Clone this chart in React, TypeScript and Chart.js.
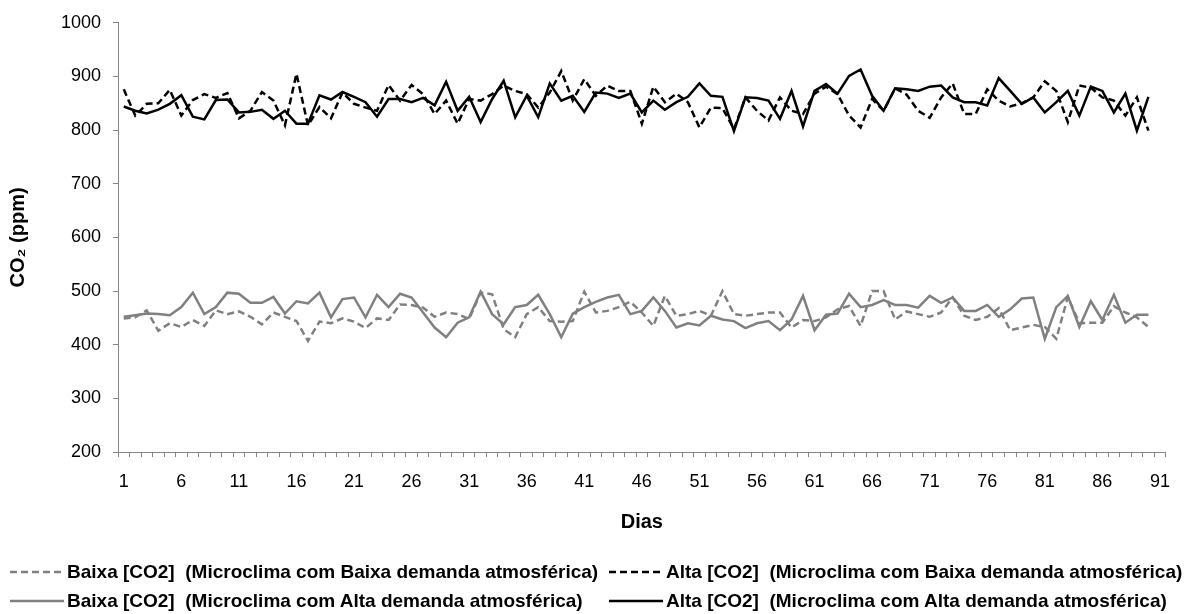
import React, { useEffect, useRef } from 'react';
import { Chart, registerables } from 'chart.js';

Chart.register(...registerables);

// Category labels: days 1..91 (data recorded for 90 days)
const dayLabels: string[] = Array.from({ length: 91 }, (_, i) => String(i + 1));

const seriesNames = [
  'Baixa [CO2]  (Microclima com Baixa demanda atmosférica)',
  'Alta [CO2]  (Microclima com Baixa demanda atmosférica)',
  'Baixa [CO2]  (Microclima com Alta demanda atmosférica)',
  'Alta [CO2]  (Microclima com Alta demanda atmosférica)',
];

// Baixa [CO2] – Microclima com Baixa demanda (grey dashed)
const baixaBaixa: number[] = [
  449, 451, 464, 426, 440, 433, 446, 435, 464, 457, 462, 452, 438, 460, 452, 444, 407, 443,
  440, 449, 443, 431, 449, 446, 475, 474, 469, 452, 460, 457, 448, 497, 494, 429, 414, 457, 470, 444, 443, 444, 499, 460,
  463, 470, 480, 460, 435, 491, 454, 457, 463, 454, 500, 457, 454, 457, 460, 460, 432, 446, 444, 451, 466, 472, 435, 500,
  500,
  447, 462, 457, 452, 460, 488, 454, 446, 452, 468, 427, 432, 437, 433, 411, 489, 440, 441, 441, 472, 460, 451, 433,
];

// Alta [CO2] – Microclima com Baixa demanda (black dashed)
const altaBaixa: number[] = [
  876, 827, 849, 850, 875, 827, 856, 867, 860, 869, 822, 836, 871, 855, 809, 905, 809, 843,
  822, 870, 849, 842, 836, 884, 855, 884, 867, 830, 855, 812, 858, 855, 867, 883, 873, 867, 842, 870, 910, 855, 895, 864,
  883, 873, 873, 812, 881, 852, 868, 852, 805, 842, 841, 802, 861, 836, 818, 861, 836, 830, 868, 881, 867, 827, 805,
  858, 836,
  878, 866, 836, 823, 861, 887, 830, 830, 876, 855, 844, 850, 861, 891, 873, 815, 883, 879, 861, 855, 827, 861, 799,
];

// Baixa [CO2] – Microclima com Alta demanda (grey solid)
const baixaAlta: number[] = [
  452, 455, 458, 457, 455, 470, 497, 457, 470, 497, 495, 478, 478, 489, 458, 481, 477, 497,
  451, 485, 488, 451, 493, 470, 495, 488, 460, 432, 414, 441, 451, 499, 457, 438, 470, 474, 493, 457, 414, 458, 470, 480,
  488, 493, 457, 463, 488, 463, 432, 440, 436, 454, 447, 444, 431, 440, 444, 427, 447, 491, 427, 456, 458, 495, 470, 474,
  483, 474, 474, 469, 491, 478, 488, 463, 463, 474, 452, 466, 486, 488, 411, 470, 491, 433, 481, 446, 493, 441, 456, 456,
];

// Alta [CO2] – Microclima com Alta demanda (black solid)
const altaAlta: number[] = [
  844, 836, 831, 838, 849, 865, 825, 820, 856, 857, 833, 834, 838, 821, 836, 812, 812, 865,
  857, 871, 862, 852, 825, 858, 858, 852, 860, 846, 890, 836, 862, 815, 858, 892, 824, 864, 824, 887, 855, 864, 834, 870,
  868, 860, 868, 833, 855, 838, 852, 862, 887, 864, 862, 798, 861, 860, 855, 821, 873, 807, 873, 886, 868, 901, 913,
  864, 836,
  878, 876, 873, 881, 883, 861, 852, 852, 846, 897, 873, 849, 861, 833, 852, 873, 827, 881, 873, 833, 868, 799, 862,
];

const yMin = 200;
const yMax = 1000;
const yStep = 100;

const FONT = "'Liberation Sans', Arial, Helvetica, sans-serif";
const GREY = '#808080';
const BLACK = '#000000';
const AXIS = '#868686';
const DASH = [7, 4];

const seriesStyles = [
  { color: GREY, dashed: true },
  { color: BLACK, dashed: true },
  { color: GREY, dashed: false },
  { color: BLACK, dashed: false },
];
const seriesData = [baixaBaixa, altaBaixa, baixaAlta, altaAlta];

function LegendItem({ idx, left, top }: { idx: number; left: number; top: number }) {
  const st = seriesStyles[idx];
  return (
    <div
      style={{
        position: 'absolute',
        left,
        top,
        display: 'flex',
        alignItems: 'center',
        whiteSpace: 'pre',
        fontFamily: FONT,
        fontWeight: 'bold',
        fontSize: 19,
        lineHeight: '22px',
        color: '#000',
      }}
    >
      <svg width={54} height={6} style={{ marginRight: 3 }}>
        <line
          x1={0}
          y1={3}
          x2={54}
          y2={3}
          stroke={st.color}
          strokeWidth={2.5}
          strokeDasharray={st.dashed ? DASH.join(' ') : undefined}
        />
      </svg>
      <span>{seriesNames[idx]}</span>
    </div>
  );
}

export default function App() {
  const ref = useRef<HTMLCanvasElement | null>(null);

  useEffect(() => {
    if (!ref.current) return;
    const chart = new Chart(ref.current, {
      type: 'line',
      data: {
        labels: dayLabels,
        datasets: seriesData.map((d, i) => ({
          label: seriesNames[i],
          data: d,
          borderColor: seriesStyles[i].color,
          backgroundColor: seriesStyles[i].color,
          borderWidth: 2.5,
          borderDash: seriesStyles[i].dashed ? DASH : [],
          pointRadius: 0,
          pointHoverRadius: 0,
          fill: false,
          tension: 0,
        })),
      },
      options: {
        animation: false,
        responsive: false,
        maintainAspectRatio: false,
        layout: { padding: { left: 0, right: 11.5, top: 20, bottom: 80 } },
        plugins: {
          legend: { display: false },
          tooltip: { enabled: false },
        },
        scales: {
          x: {
            type: 'category',
            offset: true,
            grid: {
              offset: true,
              drawOnChartArea: false,
              drawTicks: true,
              tickLength: 5,
              color: AXIS,
            },
            border: { color: AXIS, width: 1 },
            ticks: {
              autoSkip: false,
              maxRotation: 0,
              minRotation: 0,
              padding: 14,
              color: '#000',
              font: { family: FONT, size: 18 },
              callback: (_v: any, i: number) => (i % 5 === 0 ? dayLabels[i] : ''),
            },
            title: {
              display: true,
              text: 'Dias',
              color: '#000',
              font: { family: FONT, size: 20, weight: 'bold' },
              padding: { top: 0, bottom: 0 },
            },
            afterFit: (s: any) => {
              s.height = 82;
            },
          },
          y: {
            min: yMin,
            max: yMax,
            grid: {
              drawOnChartArea: false,
              drawTicks: true,
              tickLength: 5,
              color: AXIS,
            },
            border: { color: AXIS, width: 1 },
            ticks: {
              stepSize: yStep,
              padding: 12,
              color: '#000',
              font: { family: FONT, size: 18 },
              callback: (v: any) => String(v),
            },
            title: {
              display: true,
              text: 'CO₂ (ppm)',
              color: '#000',
              font: { family: FONT, size: 20, weight: 'bold' },
              padding: { top: 6, bottom: 0 },
            },
            afterFit: (s: any) => {
              s.width = 118;
            },
          },
        },
      },
    });
    return () => chart.destroy();
  }, []);

  return (
    <div style={{ position: 'absolute', left: 0, top: 0, width: 1184, height: 614, background: '#fff', overflow: 'hidden' }}>
      <canvas ref={ref} width={1184} height={614} style={{ position: 'absolute', left: 0, top: 0, width: 1184, height: 614 }} />
      <LegendItem idx={0} left={10} top={561} />
      <LegendItem idx={1} left={609} top={561} />
      <LegendItem idx={2} left={10} top={590} />
      <LegendItem idx={3} left={609} top={590} />
    </div>
  );
}
